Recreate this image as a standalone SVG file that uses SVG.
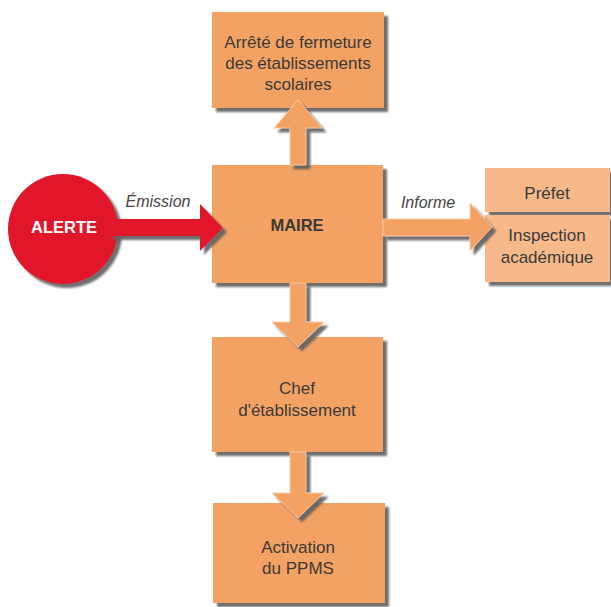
<svg xmlns="http://www.w3.org/2000/svg" width="611" height="607" viewBox="0 0 611 607">
<defs>
<filter id="sh" x="-10%" y="-10%" width="130%" height="130%">
<feDropShadow dx="4" dy="4" stdDeviation="1.2" flood-color="#5e5e5e" flood-opacity="0.9"/>
</filter>
</defs>
<style>
.box{fill:#f4a263;filter:url(#sh)}
.lbox{fill:#f8b98a;filter:url(#sh)}
.arr{fill:#f4a263;stroke:#fbd0ad;stroke-width:0.8;filter:url(#sh)}
.red{fill:#e2172b;filter:url(#sh)}
.t{font-family:"Liberation Sans",Arial,sans-serif;font-size:17px;fill:#3a3a3a;text-anchor:middle}
.b{font-weight:bold;font-size:16.5px}
.i{font-style:italic;fill:#444;font-size:16px}
.w{fill:#ffffff}
</style>
<rect width="611" height="607" fill="#ffffff"/>
<g id="node-arrete">
<rect class="box" x="212" y="12" width="172" height="96"/>
<text class="t" x="298" y="48">Arrêté de fermeture</text>
<text class="t" x="298" y="69">des établissements</text>
<text class="t" x="298" y="90">scolaires</text>
</g>
<g id="node-alerte">
<circle class="red" cx="63" cy="229" r="55"/>
<text class="t b w" x="64" y="233">ALERTE</text>
</g>
<g id="node-maire">
<rect class="box" x="212" y="165" width="171" height="118"/>
<text class="t b" x="297" y="231">MAIRE</text>
</g>
<g id="node-prefet">
<rect class="lbox" x="485" y="168" width="125" height="44"/>
<text class="t" x="547" y="199">Préfet</text>
</g>
<g id="node-inspection">
<rect class="lbox" x="485" y="215" width="125" height="67"/>
<text class="t" x="547" y="241">Inspection</text>
<text class="t" x="547" y="263">académique</text>
</g>
<g id="node-chef">
<rect class="box" x="212" y="337" width="171" height="115"/>
<text class="t" x="297" y="394">Chef</text>
<text class="t" x="297" y="416">d'établissement</text>
</g>
<g id="node-ppms">
<rect class="box" x="213" y="503" width="172" height="100"/>
<text class="t" x="298" y="553">Activation</text>
<text class="t" x="298" y="574">du PPMS</text>
</g>
<g id="connectors">
<polygon class="red" points="110,219 200,219 200,204 223,228 200,251 200,236 110,236"/>
<text class="t i" x="158" y="207">Émission</text>
<polygon class="arr" points="290,165 290,128 274,128 298,100 322,128 306,128 306,165"/>
<polygon class="arr" points="383,219 470,219 470,203 492,227 470,251 470,236 383,236"/>
<text class="t i" x="428" y="208">Informe</text>
<polygon class="arr" points="290,283 306,283 306,322 324,322 298,347 272,322 290,322"/>
<polygon class="arr" points="290,452 306,452 306,493 324,493 298,518 272,493 290,493"/>
</g>
</svg>
